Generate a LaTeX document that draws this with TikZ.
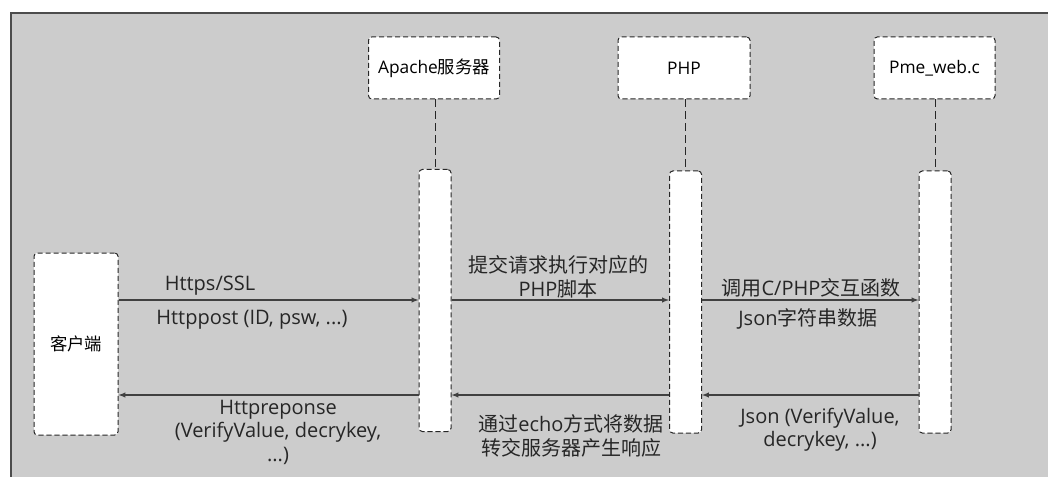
\documentclass[tikz,border=0pt]{standalone}
\usepackage{fontspec}
\setmainfont{Open Sans}
\newfontfamily\cjk{Noto Sans CJK SC}
\newcommand{\zh}[1]{{\cjk #1}}
\usetikzlibrary{arrows.meta}

\begin{document}
\begin{tikzpicture}[>=latex, x=0.75pt, y=-0.75pt,
  font=\fontsize{15}{17.6}\selectfont,
  box/.style={draw=black!85, line width=0.75pt, dash pattern=on 3.8pt off 2.2pt,
    rounded corners=2.5pt, fill=white, align=center, inner sep=0pt,
    font=\fontsize{13}{16}\selectfont},
  act/.style={box, minimum width=24pt, minimum height=196.5pt},
  life/.style={draw=black!85, line width=0.75pt, dash pattern=on 6pt off 3pt},
  msg/.style={->, draw=black!75, line width=0.8pt},
  lbl/.style={align=center, inner sep=0pt, text=black!85}]
  \useasboundingbox (0,0) rectangle (1048,477);
  % background
  \fill[black!20] (11,13) rectangle (1048,477);
  \draw[black!70, line width=0.8pt] (11,477) -- (11,13) -- (1048,13);

  % participants
  \node[box, minimum width=98.25pt, minimum height=46.5pt] (apache) at (434,68) {Apache\zh{服务器}};
  \node[box, minimum width=99pt, minimum height=46.5pt]    (php)    at (684,68) {PHP};
  \node[box, minimum width=90.75pt, minimum height=46.5pt] (pme)    at (934.5,68) {Pme\_web.c};
  \node[box, minimum width=63pt, minimum height=136.5pt]   (client) at (76,344) {\zh{客户端}};

  % activations
  \node[act] (apacheact) at (435,300.5) {};
  \node[act] (phpact)    at (685.5,302) {};
  \node[act] (pmeact)    at (935,302) {};

  \draw[life] (apache.south -| apacheact.north) -- (apacheact.north);
  \draw[life] (php.south -| phpact.north) -- (phpact.north);
  \draw[life] (pme.south -| pmeact.north) -- (pmeact.north);

  \coordinate (req)  at (0,300);
  \coordinate (resp) at (0,395);

  % requests
  \draw[msg] (client.east |- req) -- (apacheact.west |- req);
  \draw[msg] (apacheact.east |- req) -- (phpact.west |- req);
  \draw[msg] (phpact.east |- req) -- (pmeact.west |- req);
  % responses
  \draw[msg] (pmeact.west |- resp) -- (phpact.east |- resp);
  \draw[msg] (phpact.west |- resp) -- (apacheact.east |- resp);
  \draw[msg] (apacheact.west |- resp) -- (client.east |- resp);

  % labels
  \node[lbl] (https) at (210,286) {Https/SSL};
  \node[lbl] (post)  at (252,320) {Httppost (ID, psw, ...)};
  \node[lbl] (hresp) at (278,432) {Httpreponse\\(VerifyValue, decrykey,\\...)};
  \node[lbl] (exec)  at (558,277) {\zh{提交请求执行对应的}\\PHP\zh{脚本}};
  \node[lbl] (echo)  at (571,436) {\zh{通过}echo\zh{方式将数据}\\\zh{转交服务器产生响应}};
  \node[lbl] (call)  at (811,288) {\zh{调用}C/PHP\zh{交互函数}};
  \node[lbl] (jstr)  at (808,319) {Json\zh{字符串数据}};
  \node[lbl] (jresp) at (820,430) {Json (VerifyValue,\\decrykey, ...)};
\end{tikzpicture}
\end{document}
